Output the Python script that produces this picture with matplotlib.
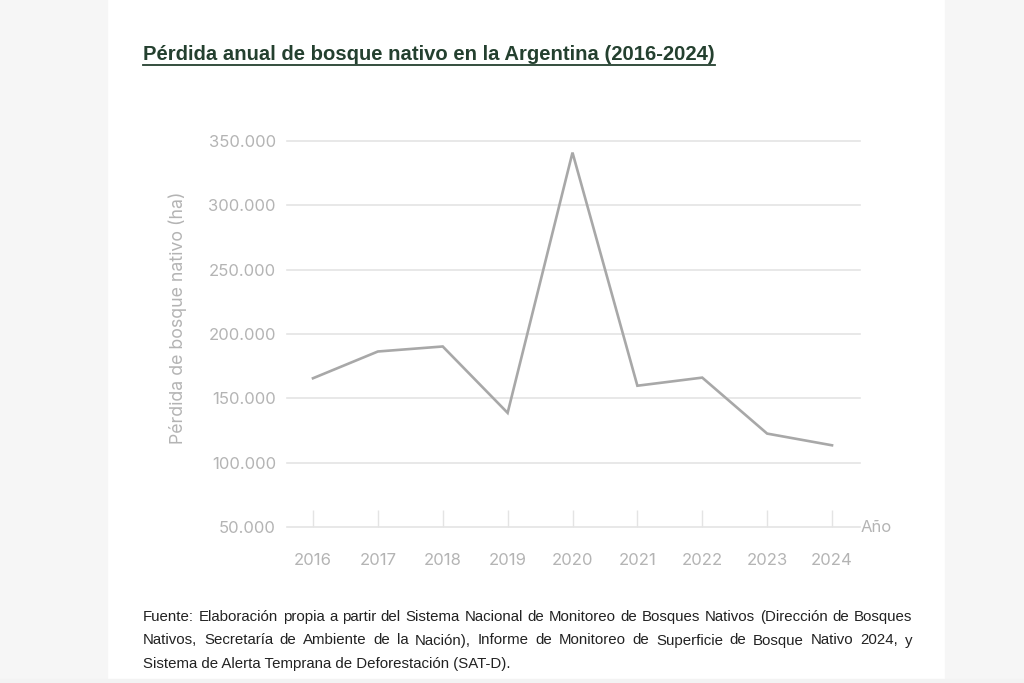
import matplotlib
matplotlib.use("Agg")
import matplotlib.pyplot as plt
from matplotlib.patches import Rectangle
from matplotlib.lines import Line2D
from matplotlib.ticker import FuncFormatter

# datos
anios = [2016, 2017, 2018, 2019, 2020, 2021, 2022, 2023, 2024]
perdida_ha = [165600, 186400, 190300, 138700, 341000, 159800, 166100, 122600, 113500]
y_ticks = [50000, 100000, 150000, 200000, 250000, 300000, 350000]

titulo = "Pérdida anual de bosque nativo en la Argentina (2016-2024)"
eje_y = "Pérdida de bosque nativo (ha)"
eje_x = "Año"
fuente = [
    "Fuente: Elaboración propia a partir del Sistema Nacional de Monitoreo de Bosques Nativos (Dirección de Bosques",
    "Nativos, Secretaría de Ambiente de la Nación), Informe de Monitoreo de Superficie de Bosque Nativo 2024, y",
    "Sistema de Alerta Temprana de Deforestación (SAT-D).",
]

W, H = 1024, 683
fig = plt.figure(figsize=(W / 100, H / 100), dpi=100)
fig.patch.set_facecolor("white")

# paneles grises laterales
fig.add_artist(Rectangle((0, 0), 107 / W, 1, transform=fig.transFigure, color="#f6f6f6", zorder=0))
fig.add_artist(Rectangle((945 / W, 0), 1 - 945 / W, 1, transform=fig.transFigure, color="#f6f6f6", zorder=0))
fig.add_artist(Rectangle((0, 0), 1, 4 / H, transform=fig.transFigure, color="#f3f3f3", zorder=0))

gris = "#b4b4b4"
ax = fig.add_axes([287 / W, 1 - 527 / H, (860 - 287) / W, (527 - 141) / H])
ax.plot(anios, perdida_ha, color="#a8a8a8", lw=1.9, solid_joinstyle="miter", zorder=3)
ax.set_xlim(2016 - 26 / 64.9, 2024 + 28 / 64.9)
ax.set_ylim(50000, 350000)
ax.set_yticks(y_ticks)
ax.set_xticks(anios)
ax.yaxis.set_major_formatter(FuncFormatter(lambda v, p: f"{int(v):,}".replace(",", ".")))
ax.grid(axis="y", color="#e4e4e4", lw=1.2)
for g in ax.get_ygridlines():
    g.set_clip_on(False)
for s in ax.spines.values():
    s.set_visible(False)
ax.tick_params(axis="y", length=0, pad=8, labelsize=12, labelcolor=gris)
ax.tick_params(axis="x", direction="in", length=12, width=1.0, color="#e4e4e4",
               pad=18.5, labelsize=12, labelcolor=gris)
for lab in ax.get_xticklabels() + ax.get_yticklabels():
    lab.set_family(["Inter", "DejaVu Sans"])

fig.text(178 / W, 1 - 318 / H, eje_y, rotation=90, ha="center", va="center",
         fontsize=12.8, color=gris, family=["Inter", "DejaVu Sans"])
fig.text(861 / W, 1 - 528 / H, eje_x, ha="left", va="center",
         fontsize=12, color=gris, family=["Inter", "DejaVu Sans"])

# titulo subrayado
t = fig.text(143 / W, 1 - 54 / H, titulo, ha="left", va="center", fontsize=14.6,
             fontweight="bold", color="#24402f", family=["Liberation Sans", "DejaVu Sans"])
fig.canvas.draw()
bb = t.get_window_extent().transformed(fig.transFigure.inverted())
fig.add_artist(Line2D([bb.x0, bb.x1], [1 - 65 / H, 1 - 65 / H], transform=fig.transFigure,
                      color="#24402f", lw=1.3))

# fuente, justificada salvo la ultima linea
renderer = fig.canvas.get_renderer()
x0, x1 = 143, 912
for i, linea in enumerate(fuente):
    y = 1 - (617 + 23.5 * i) / H
    kw = dict(fontsize=10.8, color="#222222", va="center", ha="left",
              family=["Liberation Sans Narrow", "Liberation Sans", "DejaVu Sans"])
    if i == len(fuente) - 1:
        fig.text(x0 / W, y, linea, **kw)
        continue
    palabras = linea.split(" ")
    arts = [fig.text(0, y, p, **kw) for p in palabras]
    anchos = [a.get_window_extent(renderer).width for a in arts]
    hueco = (x1 - x0 - sum(anchos)) / (len(palabras) - 1)
    x = x0
    for a, w in zip(arts, anchos):
        a.set_x(x / W)
        x += w + hueco

fig.savefig("out.png", dpi=100)
